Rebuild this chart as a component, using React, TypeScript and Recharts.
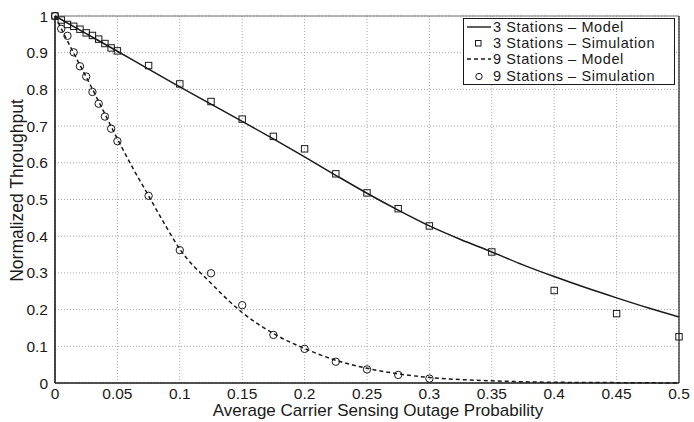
import React from 'react';
import {
  ComposedChart,
  Line,
  Scatter,
  XAxis,
  YAxis,
  CartesianGrid,
  ReferenceLine,
  Legend,
} from 'recharts';

// ---- Data ----
const model3X = [0, 0.025, 0.05, 0.075, 0.1, 0.125, 0.15, 0.175, 0.2, 0.225, 0.25, 0.275, 0.3, 0.325, 0.35, 0.375, 0.4, 0.425, 0.45, 0.475, 0.5];
const model3Y = [1.0, 0.952, 0.904, 0.855, 0.807, 0.76, 0.713, 0.665, 0.616, 0.566, 0.517, 0.471, 0.428, 0.391, 0.357, 0.322, 0.29, 0.26, 0.232, 0.205, 0.18];

const sim3X = [0, 0.005, 0.01, 0.015, 0.02, 0.025, 0.03, 0.035, 0.04, 0.045, 0.05, 0.075, 0.1, 0.125, 0.15, 0.175, 0.2, 0.225, 0.25, 0.275, 0.3, 0.35, 0.4, 0.45, 0.5];
const sim3Y = [1.0, 0.989, 0.977, 0.972, 0.964, 0.954, 0.947, 0.937, 0.925, 0.913, 0.905, 0.865, 0.815, 0.767, 0.719, 0.672, 0.638, 0.57, 0.518, 0.475, 0.428, 0.357, 0.252, 0.189, 0.126];

const model9X = [0, 0.0125, 0.025, 0.0375, 0.05, 0.0625, 0.075, 0.0875, 0.1, 0.125, 0.15, 0.175, 0.2, 0.225, 0.25, 0.275, 0.3, 0.35, 0.4, 0.45, 0.5];
const model9Y = [1.0, 0.915, 0.834, 0.75, 0.665, 0.585, 0.51, 0.435, 0.365, 0.272, 0.192, 0.135, 0.094, 0.062, 0.04, 0.025, 0.015, 0.006, 0.002, 0.001, 0.0];

const sim9X = [0, 0.005, 0.01, 0.015, 0.02, 0.025, 0.03, 0.035, 0.04, 0.045, 0.05, 0.075, 0.1, 0.125, 0.15, 0.175, 0.2, 0.225, 0.25, 0.275, 0.3];
const sim9Y = [1.0, 0.965, 0.946, 0.901, 0.863, 0.835, 0.793, 0.761, 0.726, 0.693, 0.659, 0.51, 0.362, 0.299, 0.212, 0.131, 0.093, 0.058, 0.037, 0.022, 0.012];

const xTicks = [0, 0.05, 0.1, 0.15, 0.2, 0.25, 0.3, 0.35, 0.4, 0.45, 0.5];
const yTicks = [0, 0.1, 0.2, 0.3, 0.4, 0.5, 0.6, 0.7, 0.8, 0.9, 1];

const legendLabels = [
  '3 Stations \u2013 Model',
  '3 Stations \u2013 Simulation',
  '9 Stations \u2013 Model',
  '9 Stations \u2013 Simulation',
];
const legendKinds = ['solid', 'square', 'dashed', 'circle'];

const xLabel = 'Average Carrier Sensing Outage Probability';
const yLabel = 'Normalized Throughput';

// ---- helpers ----
const zip = (xs: number[], ys: number[]) => xs.map((x, i) => ({ x, y: ys[i] }));
const model3 = zip(model3X, model3Y);
const sim3 = zip(sim3X, sim3Y);
const model9 = zip(model9X, model9Y);
const sim9 = zip(sim9X, sim9Y);

const FONT = '"Liberation Sans", Arial, Helvetica, sans-serif';
const INK = '#1a1a1a';

const SquareMark = (props: any) => {
  const { cx, cy } = props;
  if (cx == null || cy == null) return null;
  return <rect x={cx - 3.2} y={cy - 3.2} width={6.4} height={6.4} fill="none" stroke={INK} strokeWidth={1} />;
};

const CircleMark = (props: any) => {
  const { cx, cy } = props;
  if (cx == null || cy == null) return null;
  return <circle cx={cx} cy={cy} r={3.7} fill="none" stroke={INK} strokeWidth={1} />;
};

const LegendIcon = ({ kind }: { kind: string }) => (
  <svg width={29} height={14} style={{ display: 'block', flex: '0 0 auto' }}>
    {kind === 'solid' && <line x1={3} y1={7} x2={27} y2={7} stroke={INK} strokeWidth={1.4} />}
    {kind === 'dashed' && (
      <line x1={3} y1={7} x2={27} y2={7} stroke={INK} strokeWidth={1.4} strokeDasharray="4 3" />
    )}
    {kind === 'square' && <rect x={11.5} y={4.5} width={5.5} height={5.5} fill="none" stroke={INK} strokeWidth={1} />}
    {kind === 'circle' && <circle cx={15} cy={7.5} r={3.2} fill="none" stroke={INK} strokeWidth={1} />}
  </svg>
);

const LegendBox = () => (
  <div
    style={{
      width: 212,
      height: 67,
      boxSizing: 'border-box',
      border: `1.3px solid ${INK}`,
      background: '#fff',
      paddingTop: 0,
      fontFamily: FONT,
      fontSize: 14.5,
      color: INK,
    }}
  >
    {legendLabels.map((label, i) => (
      <div key={label} style={{ display: 'flex', alignItems: 'center', height: 16.2, lineHeight: '16.2px', whiteSpace: 'nowrap' }}>
        <LegendIcon kind={legendKinds[i]} />
        <span style={{ letterSpacing: 0.6 }}>{label}</span>
      </div>
    ))}
  </div>
);

const XLabel = (props: any) => {
  const vb = props.viewBox || {};
  return (
    <text
      x={vb.x + vb.width / 2 + 11}
      y={vb.y + 33}
      textAnchor="middle"
      fontFamily={FONT}
      fontSize={17}
      fill={INK}
    >
      {xLabel}
    </text>
  );
};

const YLabel = (props: any) => {
  const vb = props.viewBox || {};
  const cx = 23;
  const cy = vb.y + vb.height / 2 - 9;
  return (
    <text
      x={cx}
      y={cy}
      transform={`rotate(-90, ${cx}, ${cy})`}
      textAnchor="middle"
      fontFamily={FONT}
      fontSize={17.5}
      fill={INK}
    >
      {yLabel}
    </text>
  );
};

export default function App() {
  return (
    <div style={{ position: 'absolute', left: 0, top: 0, width: 694, height: 422, background: '#fff' }}>
      <ComposedChart width={694} height={422} margin={{ top: 16, right: 15, bottom: 0, left: 0 }}>
        <CartesianGrid stroke="#a8a8a8" strokeDasharray="1 2" strokeWidth={1} />
        <XAxis
          dataKey="x"
          type="number"
          domain={[0, 0.5]}
          ticks={xTicks}
          height={39}
          tickSize={0}
          tickMargin={5}
          tickLine={false}
          axisLine={{ stroke: INK, strokeWidth: 1.6 }}
          tick={{ fontFamily: FONT, fontSize: 15.5, fill: INK }}
          tickFormatter={(v: number) => String(v)}
          label={<XLabel />}
        />
        <YAxis
          dataKey="y"
          type="number"
          domain={[0, 1]}
          ticks={yTicks}
          width={55}
          tickSize={0}
          tickMargin={7}
          tickLine={false}
          axisLine={{ stroke: INK, strokeWidth: 1.6 }}
          tick={{ fontFamily: FONT, fontSize: 15.5, fill: INK }}
          tickFormatter={(v: number) => String(v)}
          label={<YLabel />}
        />
        <ReferenceLine y={1} stroke="#777" strokeWidth={1.2} />
        <ReferenceLine x={0.5} stroke={INK} strokeWidth={1.2} />
        <Line
          data={model3}
          dataKey="y"
          type="monotone"
          stroke={INK}
          strokeWidth={1.5}
          dot={false}
          activeDot={false}
          isAnimationActive={false}
          name={legendLabels[0]}
        />
        <Line
          data={model9}
          dataKey="y"
          type="monotone"
          stroke={INK}
          strokeWidth={1.5}
          strokeDasharray="4 3"
          dot={false}
          activeDot={false}
          isAnimationActive={false}
          name={legendLabels[2]}
        />
        <Scatter data={sim3} dataKey="y" shape={<SquareMark />} isAnimationActive={false} name={legendLabels[1]} />
        <Scatter data={sim9} dataKey="y" shape={<CircleMark />} isAnimationActive={false} name={legendLabels[3]} />
        <Legend
          layout="vertical"
          align="center"
          verticalAlign="middle"
          content={() => <LegendBox />}
          wrapperStyle={{ position: 'absolute', left: 463, top: 18, width: 212, height: 67, margin: 0 }}
        />
      </ComposedChart>
    </div>
  );
}
